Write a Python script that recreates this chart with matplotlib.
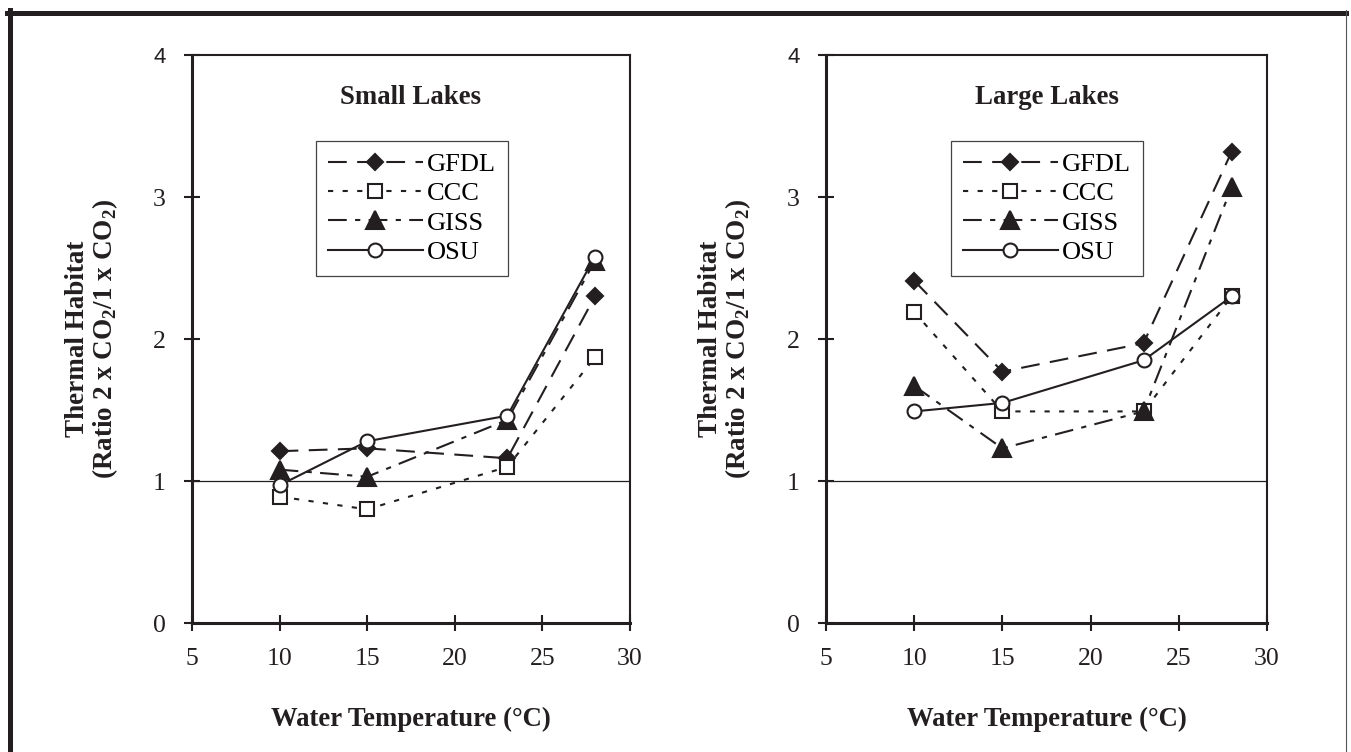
import matplotlib
matplotlib.use("Agg")
import matplotlib.pyplot as plt
from matplotlib.lines import Line2D

plt.rcParams['font.family'] = ['Liberation Serif', 'DejaVu Serif']
plt.rcParams['mathtext.fontset'] = 'custom'
plt.rcParams['mathtext.rm'] = 'Liberation Serif:bold'
plt.rcParams['mathtext.bf'] = 'Liberation Serif:bold'

# data
temps = [10, 15, 23, 28]
models = ['GFDL', 'CCC', 'GISS', 'OSU']

small_gfdl = [1.21, 1.23, 1.16, 2.30]
small_ccc = [0.89, 0.80, 1.10, 1.87]
small_giss = [1.08, 1.03, 1.43, 2.55]
small_osu = [0.97, 1.28, 1.46, 2.58]

large_gfdl = [2.41, 1.77, 1.97, 3.32]
large_ccc = [2.19, 1.49, 1.49, 2.30]
large_giss = [1.67, 1.23, 1.49, 3.07]
large_osu = [1.49, 1.55, 1.85, 2.30]

xticks = [5, 10, 15, 20, 25, 30]
yticks = [0, 1, 2, 3, 4]

LW = 1.5
INK = '#231f20'
styles = {
    'GFDL': dict(ls=(0, (9, 5)), marker='D', ms=8.5, mfc=INK),
    'CCC': dict(ls=(0, (2.5, 4.5)), marker='s', ms=10.5, mfc='white'),
    'GISS': dict(ls=(0, (9, 4, 2.5, 4)), marker='^', ms=12.5, mfc=INK),
    'OSU': dict(ls='-', marker='o', ms=10, mfc='white'),
}

W, H = 1351, 752
fig = plt.figure(figsize=(W / 100, H / 100), dpi=100)

# outer frame
fig.add_artist(Line2D([7 / W, 1346 / W], [1 - 12.5 / H, 1 - 12.5 / H], lw=3.6, color=INK))
fig.add_artist(Line2D([9.5 / W, 9.5 / W], [0, 1 - 10 / H], lw=3.6, color=INK))
fig.add_artist(Line2D([1345.5 / W, 1345.5 / W], [0, 1 - 10 / H], lw=0.8, color='#555555'))


def draw_panel(ax, title, series):
    for name, vals in zip(models, series):
        st = styles[name]
        ax.plot(temps, vals, color=INK, lw=LW, linestyle=st['ls'],
                marker=st['marker'], ms=st['ms'], mfc=st['mfc'], mec=INK,
                mew=1.5, label=name)
    ax.axhline(1, color=INK, lw=0.9, zorder=1)
    ax.set_xlim(5, 30)
    ax.set_ylim(0, 4)
    ax.set_xticks(xticks)
    ax.set_yticks(yticks)
    ax.tick_params(direction='inout', length=11.5, width=1.5, labelsize=18.5,
                   color=INK, labelcolor=INK)
    ax.tick_params(axis='x', pad=12)
    ax.tick_params(axis='y', pad=13)
    for lab in ax.get_yticklabels():
        if lab.get_text() == '4':
            lab.set_family('Liberation Sans')
            lab.set_fontsize(16)
    for side in ['left', 'bottom']:
        ax.spines[side].set_linewidth(2.2)
    for side in ['top', 'right']:
        ax.spines[side].set_linewidth(1.5)
    for sp in ax.spines.values():
        sp.set_color(INK)
    ax.text(0.5, 0.926, title, transform=ax.transAxes, ha='center', va='center',
            fontsize=19.3, fontweight='bold', color=INK)
    ax.set_xlabel('Water Temperature (°C)', fontsize=19.3, fontweight='bold', color=INK)
    ax.xaxis.set_label_coords(0.5, -0.147)
    ax.set_ylabel('Thermal Habitat\n(Ratio 2 x CO$_{2}$/1 x CO$_{2}$)', fontsize=19.5,
                  fontweight='bold', color=INK, linespacing=1.0)
    ax.yaxis.set_label_coords(-0.165, 0.5)
    leg = ax.legend(loc='upper left', bbox_to_anchor=(0.283, 0.849), fontsize=19,
                    handlelength=3.6, handletextpad=0.15, labelspacing=0.22,
                    borderpad=0.45, borderaxespad=0, fancybox=False, framealpha=1)
    leg.get_frame().set_edgecolor('#444444')
    leg.get_frame().set_linewidth(0.9)


ax1 = fig.add_axes([192 / W, 129 / H, 438 / W, 568 / H])
draw_panel(ax1, 'Small Lakes', [small_gfdl, small_ccc, small_giss, small_osu])

ax2 = fig.add_axes([826 / W, 129 / H, 441 / W, 568 / H])
draw_panel(ax2, 'Large Lakes', [large_gfdl, large_ccc, large_giss, large_osu])

fig.savefig('out.png', dpi=100)
